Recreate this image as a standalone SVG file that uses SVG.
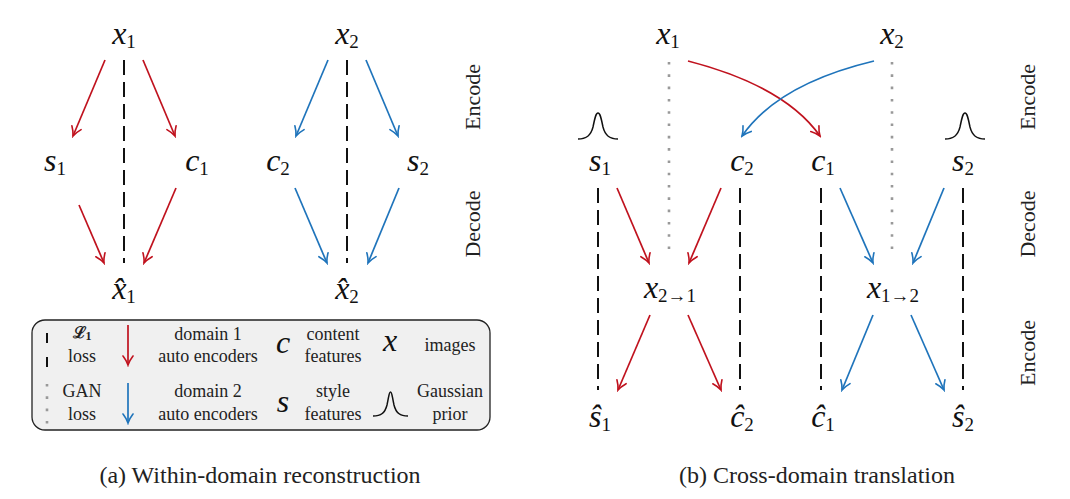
<svg xmlns="http://www.w3.org/2000/svg" width="1070" height="499" viewBox="0 0 1070 499">
<defs>
<marker id="ar" viewBox="-11 -6 13 12" refX="0" refY="0" markerWidth="13" markerHeight="12" markerUnits="userSpaceOnUse" orient="auto"><path d="M-9,-5 Q-4,-1.2 0,0 Q-4,1.2 -9,5" fill="none" stroke="#c0121e" stroke-width="1.6" stroke-linecap="round"/></marker>
<marker id="ab" viewBox="-11 -6 13 12" refX="0" refY="0" markerWidth="13" markerHeight="12" markerUnits="userSpaceOnUse" orient="auto"><path d="M-9,-5 Q-4,-1.2 0,0 Q-4,1.2 -9,5" fill="none" stroke="#1f74bb" stroke-width="1.6" stroke-linecap="round"/></marker>
</defs>
<style>
.m{font-family:"Liberation Serif","DejaVu Serif",serif;font-style:italic;font-size:32px;fill:#111}
.m tspan.s{font-style:normal;font-size:19px}
.t{font-family:"Liberation Serif","DejaVu Serif",serif;font-size:18px;fill:#222}
.cap{font-size:24px}
.lab{font-size:22px}
.r{stroke:#c0121e;stroke-width:1.7;fill:none;marker-end:url(#ar)}
.b{stroke:#1f74bb;stroke-width:1.7;fill:none;marker-end:url(#ab)}
.d{stroke:#111;stroke-width:2;stroke-dasharray:15 7;fill:none}
.g{stroke:#999;stroke-width:2.6;stroke-dasharray:2.6 9.7;fill:none}
.gs{fill:none;stroke:#111;stroke-width:1.5}
</style>
<rect width="1070" height="499" fill="#fff"/>

<g id="connectors">
  <line class="d" x1="124" y1="60" x2="124" y2="263"/>
  <line class="d" x1="347" y1="60" x2="347" y2="263"/>
  <line class="r" x1="105" y1="60" x2="73" y2="136"/>
  <line class="r" x1="143" y1="60" x2="175" y2="136"/>
  <line class="r" x1="79" y1="205" x2="104" y2="263"/>
  <line class="r" x1="176" y1="188" x2="144" y2="263"/>
  <line class="b" x1="328" y1="60" x2="296" y2="136"/>
  <line class="b" x1="366" y1="60" x2="398" y2="136"/>
  <line class="b" x1="295" y1="188" x2="327" y2="263"/>
  <line class="b" x1="399" y1="188" x2="368" y2="263"/>
  <line class="g" x1="669" y1="62" x2="669" y2="258"/>
  <line class="g" x1="892" y1="62" x2="892" y2="258"/>
  <path class="r" d="M688,61 Q785,86 820,136"/>
  <path class="b" d="M874,61 Q778,84 742,136"/>
  <line class="d" x1="598" y1="188" x2="598" y2="390"/>
  <line class="d" x1="740" y1="188" x2="740" y2="390"/>
  <line class="d" x1="821" y1="188" x2="821" y2="390"/>
  <line class="d" x1="963" y1="188" x2="963" y2="390"/>
  <line class="r" x1="617" y1="188" x2="649" y2="263"/>
  <line class="r" x1="721" y1="188" x2="689" y2="263"/>
  <line class="r" x1="650" y1="315" x2="618" y2="390"/>
  <line class="r" x1="688" y1="315" x2="721" y2="390"/>
  <line class="b" x1="840" y1="188" x2="873" y2="263"/>
  <line class="b" x1="944" y1="188" x2="913" y2="263"/>
  <line class="b" x1="873" y1="315" x2="842" y2="390"/>
  <line class="b" x1="911" y1="315" x2="944" y2="390"/>
</g>

<g id="a-x1"><text class="m" x="124" y="44" text-anchor="middle">x<tspan class="s" dy="4">1</tspan></text></g>
<g id="a-x2"><text class="m" x="347" y="44" text-anchor="middle">x<tspan class="s" dy="4">2</tspan></text></g>
<g id="a-s1"><text class="m" x="55" y="171" text-anchor="middle">s<tspan class="s" dy="4">1</tspan></text></g>
<g id="a-c1"><text class="m" x="197" y="171" text-anchor="middle">c<tspan class="s" dy="4">1</tspan></text></g>
<g id="a-c2"><text class="m" x="278" y="171" text-anchor="middle">c<tspan class="s" dy="4">2</tspan></text></g>
<g id="a-s2"><text class="m" x="418" y="171" text-anchor="middle">s<tspan class="s" dy="4">2</tspan></text></g>
<g id="a-xh1"><text class="m" x="124" y="299" text-anchor="middle">x&#x302;<tspan class="s" dy="4">1</tspan></text></g>
<g id="a-xh2"><text class="m" x="347" y="299" text-anchor="middle">x&#x302;<tspan class="s" dy="4">2</tspan></text></g>
<g id="a-encode"><text class="t lab" transform="translate(480,97) rotate(-90)" text-anchor="middle">Encode</text></g>
<g id="a-decode"><text class="t lab" transform="translate(480,224) rotate(-90)" text-anchor="middle">Decode</text></g>

<g id="legend">
  <rect x="32" y="320" width="458" height="110" rx="13" ry="13" fill="#f0f0f0" stroke="#222" stroke-width="1.3"/>
  <line x1="47" y1="333" x2="47" y2="343" stroke="#111" stroke-width="2"/>
  <line x1="47" y1="357" x2="47" y2="367" stroke="#111" stroke-width="2"/>
  <text class="t" x="82" y="338" text-anchor="middle" style="font-weight:bold;font-size:16px">ℒ<tspan dy="2" style="font-size:12px">1</tspan></text>
  <text class="t" x="82" y="362" text-anchor="middle">loss</text>
  <line class="r" x1="128" y1="325" x2="128" y2="365"/>
  <text class="t" x="208" y="340" text-anchor="middle">domain 1</text>
  <text class="t" x="208" y="362" text-anchor="middle">auto encoders</text>
  <text class="m" x="283" y="353" text-anchor="middle">c</text>
  <text class="t" x="333" y="340" text-anchor="middle">content</text>
  <text class="t" x="333" y="362" text-anchor="middle">features</text>
  <text class="m" x="390" y="351" text-anchor="middle">x</text>
  <text class="t" x="450" y="351" text-anchor="middle">images</text>
  <line class="g" x1="47" y1="384" x2="47" y2="425"/>
  <text class="t" x="82" y="397" text-anchor="middle">GAN</text>
  <text class="t" x="82" y="420" text-anchor="middle">loss</text>
  <line class="b" x1="128" y1="383" x2="128" y2="423"/>
  <text class="t" x="208" y="397" text-anchor="middle">domain 2</text>
  <text class="t" x="208" y="420" text-anchor="middle">auto encoders</text>
  <text class="m" x="283" y="412" text-anchor="middle">s</text>
  <text class="t" x="333" y="397" text-anchor="middle">style</text>
  <text class="t" x="333" y="420" text-anchor="middle">features</text>
  <path class="gs" d="M373,416 C381,416 385,413 387,405 C389,396 389,392 390.5,392 C392,392 392,396 394,405 C396,413 400,416 408,416"/>
  <text class="t" x="450" y="397" text-anchor="middle">Gaussian</text>
  <text class="t" x="450" y="420" text-anchor="middle">prior</text>
</g>

<g id="b-x1"><text class="m" x="668" y="44" text-anchor="middle">x<tspan class="s" dy="4">1</tspan></text></g>
<g id="b-x2"><text class="m" x="892" y="44" text-anchor="middle">x<tspan class="s" dy="4">2</tspan></text></g>
<g id="b-prior1"><path class="gs" d="M578,139 C587,139 591,135 593,127 C595,117 596,113 598,113 C600,113 601,117 603,127 C605,135 609,139 618,139"/></g>
<g id="b-prior2"><path class="gs" d="M945,139 C954,139 958,135 960,127 C962,117 963,113 965,113 C967,113 968,117 970,127 C972,135 976,139 985,139"/></g>
<g id="b-s1"><text class="m" x="600" y="171" text-anchor="middle">s<tspan class="s" dy="4">1</tspan></text></g>
<g id="b-c2"><text class="m" x="742" y="171" text-anchor="middle">c<tspan class="s" dy="4">2</tspan></text></g>
<g id="b-c1"><text class="m" x="823" y="171" text-anchor="middle">c<tspan class="s" dy="4">1</tspan></text></g>
<g id="b-s2"><text class="m" x="963" y="171" text-anchor="middle">s<tspan class="s" dy="4">2</tspan></text></g>
<g id="b-x21"><text class="m" x="670" y="298" text-anchor="middle">x<tspan class="s" dy="4">2→1</tspan></text></g>
<g id="b-x12"><text class="m" x="893" y="298" text-anchor="middle">x<tspan class="s" dy="4">1→2</tspan></text></g>
<g id="b-sh1"><text class="m" x="600" y="427" text-anchor="middle">s&#x302;<tspan class="s" dy="4">1</tspan></text></g>
<g id="b-ch2"><text class="m" x="742" y="427" text-anchor="middle">c&#x302;<tspan class="s" dy="4">2</tspan></text></g>
<g id="b-ch1"><text class="m" x="823" y="427" text-anchor="middle">c&#x302;<tspan class="s" dy="4">1</tspan></text></g>
<g id="b-sh2"><text class="m" x="963" y="427" text-anchor="middle">s&#x302;<tspan class="s" dy="4">2</tspan></text></g>
<g id="b-encode"><text class="t lab" transform="translate(1035,97) rotate(-90)" text-anchor="middle">Encode</text></g>
<g id="b-decode"><text class="t lab" transform="translate(1035,224) rotate(-90)" text-anchor="middle">Decode</text></g>
<g id="b-encode2"><text class="t lab" transform="translate(1035,353) rotate(-90)" text-anchor="middle">Encode</text></g>

<g id="captions">
  <text class="t cap" x="260" y="483" text-anchor="middle">(a) Within-domain reconstruction</text>
  <text class="t cap" x="817" y="483" text-anchor="middle">(b) Cross-domain translation</text>
</g>
</svg>
